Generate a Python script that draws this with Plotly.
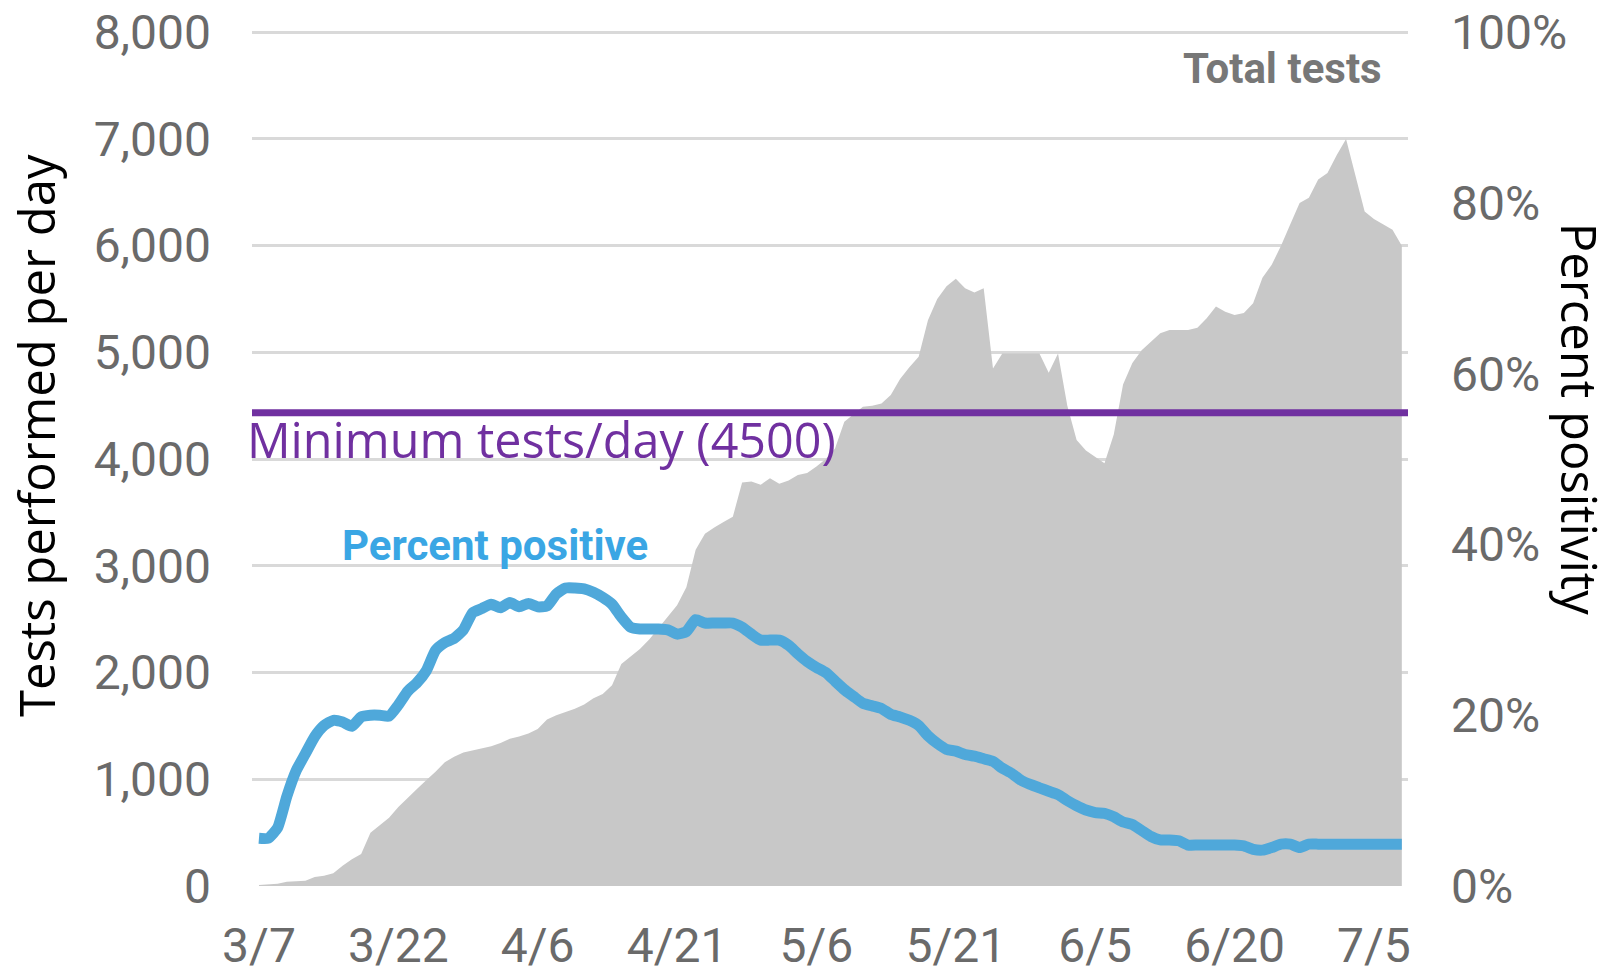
import plotly.graph_objects as go
import pandas as pd

# ---- data ----
start_date = "2020-03-07"
total_tests = [
    10, 15, 20, 40, 45, 50, 85, 95, 120, 190,
    250, 300, 500, 570, 640, 740, 830, 910, 990, 1070,
    1160, 1210, 1250, 1270, 1290, 1310, 1340, 1380, 1400, 1430,
    1470, 1560, 1600, 1630, 1660, 1700, 1760, 1800, 1880, 2080,
    2150, 2220, 2310, 2420, 2520, 2630, 2800, 3150, 3300, 3360,
    3410, 3460, 3780, 3790, 3760, 3820, 3770, 3800, 3850, 3870,
    3930, 4000, 4100, 4350, 4420, 4490, 4500, 4520, 4600, 4750,
    4860, 4960, 5300, 5500, 5620, 5690, 5600, 5560, 5600, 4850,
    4990, 4990, 4990, 4990, 4990, 4810, 4990, 4500, 4180, 4080,
    4020, 3960, 4230, 4700, 4900, 5020, 5100, 5180, 5210, 5210,
    5210, 5230, 5320, 5430, 5380, 5350, 5370, 5460, 5700, 5820,
    6000, 6200, 6400, 6450, 6620, 6680, 6850, 7000, 6650, 6320,
    6250, 6200, 6150, 6000,
]
percent_positive = [
    5.6, 5.6, 6.8, 10.5, 13.5, 15.5, 17.5, 18.8, 19.4, 19.2,
    18.7, 19.8, 20.0, 20.0, 19.9, 21.2, 22.8, 23.8, 25.2, 27.6,
    28.5, 29.0, 30.0, 32.0, 32.5, 33.0, 32.6, 33.2, 32.7, 33.1,
    32.7, 32.8, 34.2, 34.9, 34.9, 34.8, 34.4, 33.8, 33.0, 31.5,
    30.3, 30.1, 30.1, 30.1, 30.0, 29.5, 29.8, 31.2, 30.8, 30.8,
    30.8, 30.8, 30.3, 29.5, 28.8, 28.8, 28.8, 28.2, 27.2, 26.3,
    25.6, 25.0, 24.0, 23.0, 22.2, 21.4, 21.1, 20.8, 20.1, 19.8,
    19.4, 18.8, 17.6, 16.7, 16.0, 15.8, 15.4, 15.2, 14.9, 14.6,
    13.8, 13.2, 12.4, 11.9, 11.5, 11.1, 10.7, 10.0, 9.4, 8.9,
    8.6, 8.5, 8.1, 7.5, 7.2, 6.5, 5.8, 5.4, 5.4, 5.3,
    4.8, 4.8, 4.8, 4.8, 4.8, 4.8, 4.7, 4.3, 4.2, 4.5,
    4.9, 4.9, 4.5, 4.9, 4.9, 4.9, 4.9, 4.9, 4.9, 4.9,
    4.9, 4.9, 4.9, 4.9,
]
minimum_label = "Minimum tests/day (4500)"
minimum_line_level = 4435   # where the purple line sits in the picture
x_tick_dates = ["2020-03-07", "2020-03-22", "2020-04-06", "2020-04-21", "2020-05-06",
                "2020-05-21", "2020-06-05", "2020-06-20", "2020-07-05"]
x_tick_text = ["3/7", "3/22", "4/6", "4/21", "5/6", "5/21", "6/5", "6/20", "7/5"]
left_ticks = [0, 1000, 2000, 3000, 4000, 5000, 6000, 7000, 8000]
right_ticks = [0, 20, 40, 60, 80, 100]
right_tick_text = ["0%", "20%", "40%", "60%", "80%", "100%"]

# a little headroom above 8,000 so the top gridline is drawn inside the plot
left_max = 8030
right_max = 100 * left_max / 8000

dates = pd.date_range(start_date, periods=len(total_tests))

TICK_FONT = dict(family="Roboto", size=48, color="#6a6a6a")
TITLE_FAMILY = "Open Sans"

fig = go.Figure()
fig.add_trace(go.Scatter(
    x=dates, y=total_tests, mode="lines", fill="tozeroy",
    fillcolor="#c8c8c8", line=dict(width=0, color="#c8c8c8"),
    hoverinfo="skip", showlegend=False))
fig.add_trace(go.Scatter(
    x=dates, y=percent_positive, yaxis="y2", mode="lines",
    line=dict(color="#4fa8da", width=11, shape="spline", smoothing=0.5),
    showlegend=False))

fig.add_shape(type="line", xref="paper", x0=0, x1=1, yref="y",
              y0=minimum_line_level, y1=minimum_line_level,
              line=dict(color="#7030a0", width=7))

fig.update_layout(
    width=1613, height=973,
    margin=dict(l=252, r=205, t=29, b=87, autoexpand=False),
    plot_bgcolor="white", paper_bgcolor="white",
    xaxis=dict(type="date", range=["2020-03-06 06:00", "2020-07-08 16:00"],
               tickvals=x_tick_dates, ticktext=x_tick_text, automargin=False,
               showgrid=False, zeroline=False, showline=False,
               tickfont=TICK_FONT, ticks="", ticklabelstandoff=27,
               ticklabeloverflow="allow"),
    yaxis=dict(range=[0, left_max], tickvals=left_ticks, automargin=False,
               tickformat=",d", showgrid=True, gridcolor="#d9d9d9", gridwidth=3,
               zeroline=False, showline=False, tickfont=TICK_FONT, ticks="",
               ticklabelstandoff=40, ticklabeloverflow="allow"),
    yaxis2=dict(range=[0, right_max], tickvals=right_ticks, ticktext=right_tick_text,
                overlaying="y", side="right", showgrid=False, zeroline=False,
                automargin=False, showline=False, tickfont=TICK_FONT, ticks="",
                ticklabelstandoff=42, ticklabeloverflow="allow"),
    annotations=[
        dict(text="Total tests", xref="paper", yref="y", x=0.979, y=7660,
             xanchor="right", yanchor="middle", showarrow=False,
             font=dict(family="Roboto", size=42, color="#777777", weight="bold")),
        dict(text="Percent positive", xref="paper", yref="y", x=0.2098, y=3193,
             xanchor="center", yanchor="middle", showarrow=False,
             font=dict(family="Roboto", size=42, color="#3aa6e4", weight="bold")),
        dict(text=minimum_label, xref="paper", yref="y", x=-0.006, y=4186,
             xanchor="left", yanchor="middle", showarrow=False,
             font=dict(family=TITLE_FAMILY, size=48.5, color="#7030a0")),
        dict(text="Tests performed per day", xref="paper", yref="paper", x=-0.187, y=0.526,
             xanchor="center", yanchor="middle", showarrow=False, textangle=-90,
             font=dict(family=TITLE_FAMILY, size=49, color="black")),
        dict(text="Percent positivity", xref="paper", yref="paper", x=1.149, y=0.545,
             xanchor="center", yanchor="middle", showarrow=False, textangle=90,
             font=dict(family=TITLE_FAMILY, size=49, color="black")),
    ],
)

fig.write_html(
    "out.html",
    config={"displayModeBar": False},
    post_script="document.body.style.margin='0';document.body.style.overflow='hidden';",
)
